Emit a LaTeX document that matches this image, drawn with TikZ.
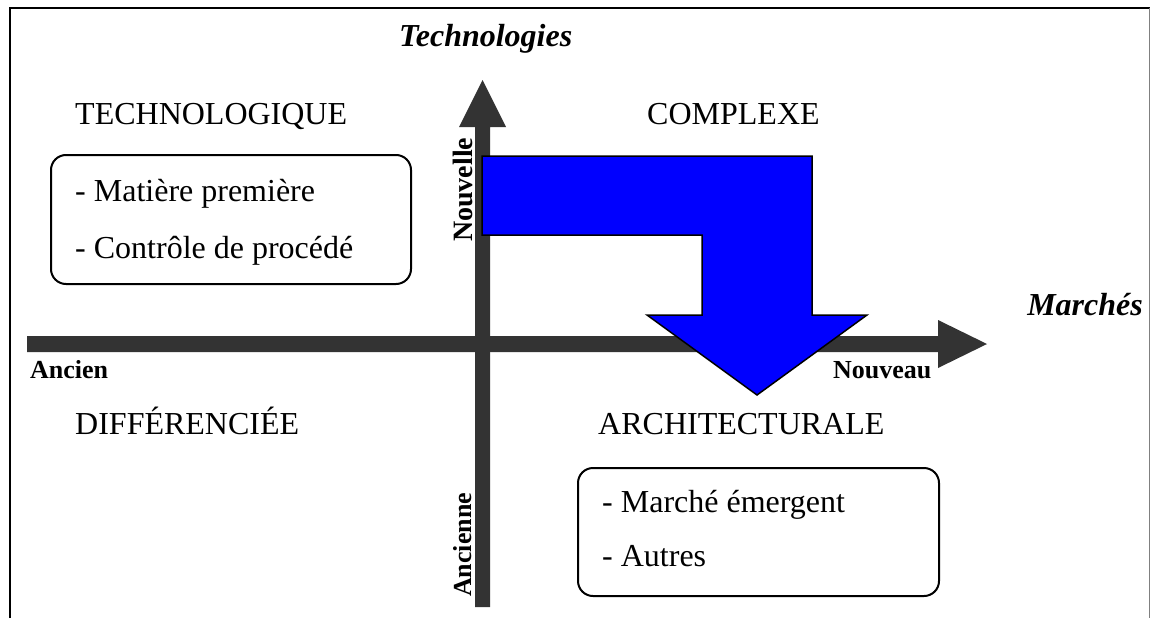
\documentclass[tikz,border=0pt]{standalone}
\usepackage{fontspec}
\setmainfont{Liberation Serif}
\definecolor{axisgray}{HTML}{333333}
\definecolor{flowblue}{HTML}{0000FF}
\begin{document}
\begin{tikzpicture}[x=1pt,y=-1pt,
  axis/.style={fill=axisgray, draw=none},
  lab/.style={font=\fontsize{32}{38}\selectfont, inner sep=0pt},
  blab/.style={font=\fontsize{26}{30}\selectfont\bfseries, inner sep=0pt},
  bilab/.style={font=\fontsize{32}{38}\selectfont\bfseries\itshape, inner sep=0pt},
  box/.style={draw=black, line width=2pt, rounded corners=15pt, inner sep=0pt},
  flow/.style={fill=flowblue, draw=black, line width=1.5pt, line join=miter}]
\useasboundingbox (0,0) rectangle (1150,618);
% frame
\draw[line width=2pt] (9.5,618) -- (9.5,8) -- (1150,8);
\draw[line width=1pt, gray] (1149,8) -- (1149,618);
% horizontal axis (Marchés)
\coordinate (hstart) at (27,344);
\coordinate (htip) at (987,344);
\fill[axis] (27,336) -- (938,336) -- (938,320) -- (htip) -- (938,368) -- (938,352) -- (27,352) -- cycle;
% vertical axis (Technologies)
\coordinate (vstart) at (482.5,607);
\coordinate (vtip) at (482.5,80);
\fill[axis] (475,607) -- (475,127) -- (459,127) -- (vtip) -- (506,127) -- (490,127) -- (490,607) -- cycle;
% blue flow arrow
\draw[flow] (482,156) -- (812,156) -- (812,315) -- (867,315) -- (757,395) -- (647,315) -- (702,315) -- (702,235) -- (482,235) -- cycle;
% boxes
\node[box, minimum width=360pt, minimum height=129pt] (boxL) at (231,219.5) {};
\node[box, minimum width=361pt, minimum height=128pt] (boxR) at (758.5,532) {};
\node[lab, anchor=base west] (l1) at (75,201) {- Matière première};
\node[lab, anchor=base west] (l2) at (75,258) {- Contrôle de procédé};
\node[lab, anchor=base west] (r1) at (602,512) {- Marché émergent};
\node[lab, anchor=base west] (r2) at (602,566) {- Autres};
% quadrant labels
\node[lab, anchor=base west] (qtl) at (75,124) {TECHNOLOGIQUE};
\node[lab, anchor=base west] (qtr) at (647,124) {COMPLEXE};
\node[lab, anchor=base west] (qbl) at (75,434) {DIFFÉRENCIÉE};
\node[lab, anchor=base west] (qbr) at (598,434) {ARCHITECTURALE};
% axis titles
\node[bilab, anchor=base west] (ttech) at (399,46) {Technologies};
\node[bilab, anchor=base east] (tmarch) at (1143,315) {Marchés};
% axis end labels
\node[blab, anchor=base west] (ancien) at (30,378) {Ancien};
\node[blab, anchor=base west] (nouveau) at (833,378) {Nouveau};
\node[blab, font=\fontsize{28}{32}\selectfont\bfseries, anchor=base west, rotate=90] (nouvelle) at (472,242) {Nouvelle};
\node[blab, anchor=base west, rotate=90] (ancienne) at (471,597) {Ancienne};
\end{tikzpicture}
\end{document}
